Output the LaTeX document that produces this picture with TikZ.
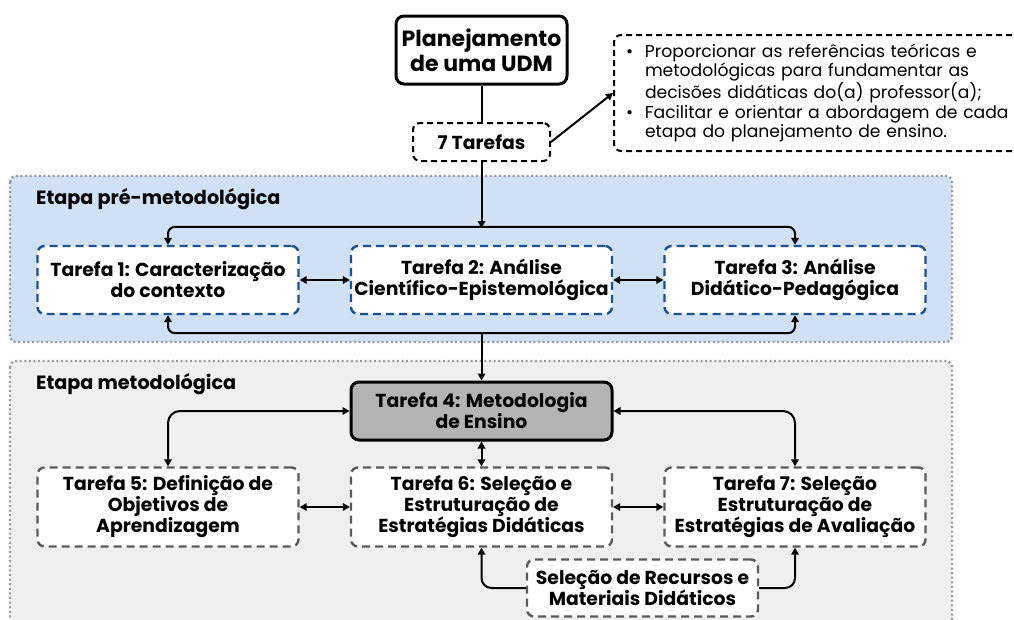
\documentclass[tikz,border=0pt]{standalone}
\usepackage{fontspec}
\setmainfont{Poppins}
\usetikzlibrary{arrows.meta,positioning}
\definecolor{bluebd}{HTML}{1D4F91}
\definecolor{bluefill}{HTML}{D0E1F6}
\definecolor{graybd}{HTML}{5A5A5A}
\definecolor{grayfill}{HTML}{EFEFEF}
\definecolor{regbd}{HTML}{9A9A9A}
\definecolor{t4fill}{HTML}{B3B3B3}
\tikzset{
  boxtxt/.style={font=\bfseries\fontsize{18.8}{21}\selectfont, align=center},
  bluebox/.style={boxtxt, draw=bluebd, fill=white, line width=2.4pt, dash pattern=on 8pt off 5pt, rounded corners=7pt, minimum width=261pt, minimum height=68pt, inner sep=2pt},
  graybox/.style={boxtxt, draw=graybd, fill=white, line width=2.4pt, dash pattern=on 8pt off 5pt, rounded corners=7pt, minimum width=261pt, minimum height=79pt, inner sep=2pt},
  region/.style={draw=regbd, line width=2.4pt, dash pattern=on 2pt off 2.6pt, rounded corners=6pt},
  heading/.style={font=\bfseries\fontsize{19.2}{22}\selectfont, anchor=west, inner sep=0pt},
  conn/.style={line width=2pt, draw=black},
  arr/.style={conn, -{Triangle[length=7pt,width=7.5pt]}},
  darr/.style={conn, {Triangle[length=7pt,width=7.5pt]}-{Triangle[length=7pt,width=7.5pt]}},
}
\begin{document}
\begin{tikzpicture}[x=1pt,y=-1pt]
\clip (0,0) rectangle (1014,619);
\fill[white] (0,0) rectangle (1014,619);
% regions
\draw[region, fill=bluefill] (10,176) rectangle (952,342);
\draw[region, fill=grayfill] (10,361) rectangle (952,660);
\node[heading] (h1) at (36,199) {Etapa pré-metodológica};
\node[heading] (h2) at (36,384) {Etapa metodológica};
% top part
\node[boxtxt, draw=black, fill=white, line width=3pt, rounded corners=8pt, minimum width=171pt, minimum height=68pt, inner sep=2pt, font=\bfseries\fontsize{22}{25}\selectfont] (plan) at (481.5,50) {Planejamento\\de uma UDM};
\node[boxtxt, draw=black, fill=white, line width=2pt, dash pattern=on 6pt off 4pt, rounded corners=7pt, minimum width=137pt, minimum height=38pt, inner sep=2pt] (tasks) at (481.5,142) {7 Tarefas};
\node[draw=black, fill=white, line width=2pt, dash pattern=on 6pt off 4pt, rounded corners=7pt, anchor=west, minimum height=116pt, text width=401pt, inner xsep=12pt, align=left, font=\fontsize{17.2}{19.5}\selectfont] (info) at (613,93) {%
\makebox[19pt][l]{\textbullet}Proporcionar as referências teóricas e\\
\hspace*{19pt}metodológicas para fundamentar as\\
\hspace*{19pt}decisões didáticas do(a) professor(a);\\
\makebox[19pt][l]{\textbullet}Facilitar e orientar a abordagem de cada\\
\hspace*{19pt}etapa do planejamento de ensino.};
% pre-methodological tasks
\node[bluebox] (t1) at (168,280) {Tarefa 1: Caracterização\\do contexto};
\node[bluebox] (t2) at (481.5,280) {Tarefa 2: Análise\\Científico-Epistemológica};
\node[bluebox] (t3) at (795,280) {Tarefa 3: Análise\\Didático-Pedagógica};
% methodological tasks
\node[boxtxt, draw=black, fill=t4fill, line width=3pt, rounded corners=8pt, minimum width=261pt, minimum height=58pt, inner sep=2pt] (t4) at (481.5,411) {Tarefa 4: Metodologia\\de Ensino};
\node[graybox] (t5) at (168,507) {Tarefa 5: Definição de\\Objetivos de\\Aprendizagem};
\node[graybox] (t6) at (481.5,507) {Tarefa 6: Seleção e\\Estruturação de\\Estratégias Didáticas};
\node[graybox] (t7) at (795,507) {Tarefa 7: Seleção\\Estruturação de\\Estratégias de Avaliação};
\node[graybox, minimum width=231pt, minimum height=57pt] (rec) at (642.5,588) {Seleção de Recursos e\\Materiais Didáticos};
% coordinates
\coordinate (tb) at (481.5,228);
\coordinate (bb) at (481.5,332);
% connectors
\draw[conn] (plan.south) -- (tasks.north);
\draw[arr] (tasks.east) -- (info.west);
\draw[arr] (tasks.south) -- (tb);
\draw[darr, rounded corners=7pt] (t1.north) -- ++(0,-18) -| (t3.north);
\draw[darr, rounded corners=7pt] (t1.south) -- ++(0,18) -| (t3.south);
\draw[arr] (bb) -- (t4.north);
\draw[darr] (t1.east) -- (t2.west);
\draw[darr] (t2.east) -- (t3.west);
\draw[darr, rounded corners=12pt] (t4.west) -| (t5.north);
\draw[darr, rounded corners=12pt] (t4.east) -| (t7.north);
\draw[darr] (t4.south) -- (t6.north);
\draw[darr] (t5.east) -- (t6.west);
\draw[darr] (t6.east) -- (t7.west);
\draw[arr, rounded corners=10pt] (rec.west) -| (t6.south);
\draw[arr, rounded corners=10pt] (rec.east) -| (t7.south);
\end{tikzpicture}
\end{document}
